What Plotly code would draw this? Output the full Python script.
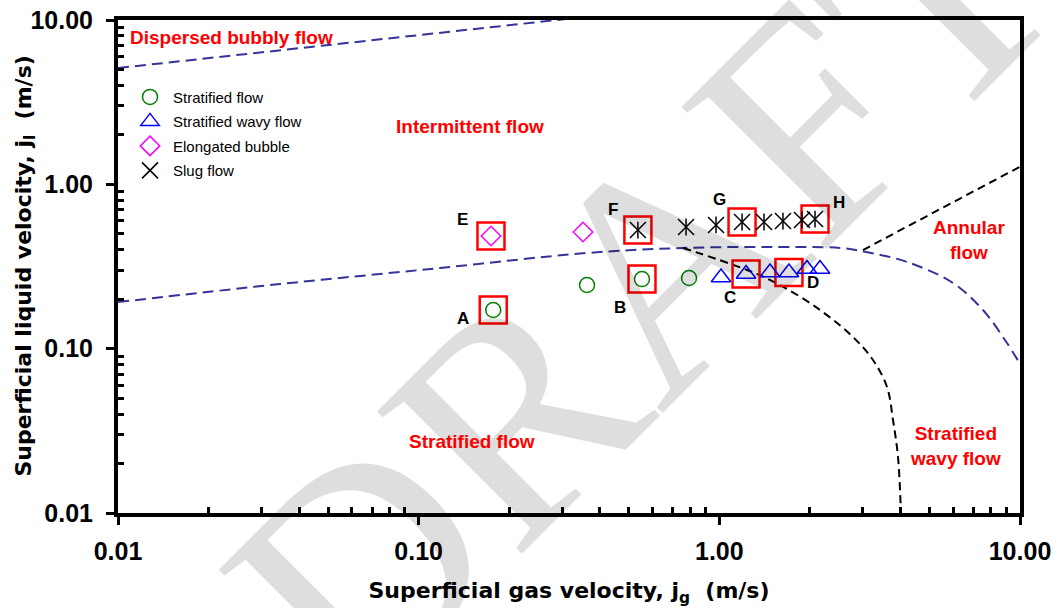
import math
import plotly.graph_objects as go

# ---------------- data ----------------
strat_x = [0.177, 0.363, 0.553, 0.793]
strat_y = [0.172, 0.244, 0.265, 0.269]

wavy_x = [1.013, 1.227, 1.474, 1.704, 1.957, 2.162]
wavy_y = [0.271, 0.285, 0.291, 0.291, 0.305, 0.305]

elong_x = [0.174, 0.352]
elong_y = [0.485, 0.513]

slug_x = [0.536, 0.775, 0.975, 1.190, 1.408, 1.628, 1.883, 2.081]
slug_y = [0.527, 0.550, 0.566, 0.590, 0.590, 0.598, 0.607, 0.615]

# boundary lines
disp_x = [0.01, 0.35]
disp_y = [5.10, 10.4]

strint_x = [0.01, 0.0346, 0.1177, 0.363, 0.757, 1.508, 2.519, 3.075, 4.209, 5.985, 7.531, 9.050, 10.15]
strint_y = [0.192, 0.2474, 0.3095, 0.3821, 0.4099, 0.4157, 0.4099, 0.3875, 0.3369, 0.2510, 0.1719, 0.1083, 0.0773]

strwavy_x = [0.757, 1.236, 1.591, 2.162, 2.783, 3.244, 3.612, 3.781, 3.929, 4.020, 4.03]
strwavy_y = [0.4099, 0.3012, 0.2440, 0.1719, 0.1178, 0.0853, 0.0584, 0.0368, 0.0219, 0.0100, 0.009]

annular_x = [3.004, 10.0]
annular_y = [0.3984, 1.280]

# highlighted cases: label, series, index, label offset (px)
series = {"strat": (strat_x, strat_y), "wavy": (wavy_x, wavy_y),
          "elong": (elong_x, elong_y), "slug": (slug_x, slug_y)}
cases = [("A", "strat", 0, -30, -9), ("B", "strat", 2, -22, -28),
         ("C", "wavy", 1, -16, -24), ("D", "wavy", 3, 24, -10),
         ("E", "elong", 0, -28, 16), ("F", "slug", 0, -25, 21),
         ("G", "slug", 3, -23, 22), ("H", "slug", 7, 24, 17)]

x_ticks = [0.01, 0.1, 1, 10]
x_ticktext = ["0.01", "0.10", "1.00", "10.00"]
y_ticks = [0.01, 0.1, 1, 10]
y_ticktext = ["0.01", "0.10", "1.00", "10.00"]
minor_vals = [m * d for d in [0.01, 0.1, 1] for m in range(2, 10)]

BLUE_LINE = "#333399"

fig = go.Figure()

# boundary lines
fig.add_trace(go.Scatter(x=disp_x, y=disp_y, mode="lines", showlegend=False, hoverinfo="skip",
                         line=dict(color=BLUE_LINE, width=2, dash="11px,6px")))
fig.add_trace(go.Scatter(x=strint_x, y=strint_y, mode="lines", showlegend=False, hoverinfo="skip",
                         line=dict(color=BLUE_LINE, width=2, dash="11px,6px", shape="spline")))
fig.add_trace(go.Scatter(x=strwavy_x, y=strwavy_y, mode="lines", showlegend=False, hoverinfo="skip",
                         line=dict(color="black", width=2, dash="8px,5px", shape="spline")))
fig.add_trace(go.Scatter(x=annular_x, y=annular_y, mode="lines", showlegend=False, hoverinfo="skip",
                         line=dict(color="black", width=2, dash="8px,5px")))

# highlight squares
sq_x = [series[s][0][i] for _, s, i, _, _ in cases]
sq_y = [series[s][1][i] for _, s, i, _, _ in cases]
fig.add_trace(go.Scatter(x=sq_x, y=sq_y, mode="markers", showlegend=False, hoverinfo="skip",
                         marker=dict(symbol="square-open", size=27, color="red",
                                     line=dict(color="red", width=2.5))))

# data series
fig.add_trace(go.Scatter(x=strat_x, y=strat_y, mode="markers", name="Stratified flow",
                         legendgroup="g1",
                         marker=dict(symbol="circle-open", size=15, color="#008000",
                                     line=dict(color="#008000", width=1.5))))
fig.add_trace(go.Scatter(x=wavy_x, y=wavy_y, mode="markers", name="Stratified wavy flow",
                         legendgroup="g2",
                         marker=dict(symbol="triangle-up-open", size=17, color="#0000ff",
                                     line=dict(color="#0000ff", width=1.5))))
fig.add_trace(go.Scatter(x=elong_x, y=elong_y, mode="markers", name="Elongated bubble",
                         legendgroup="g3",
                         marker=dict(symbol="diamond-open", size=15, color="#ff00ff",
                                     line=dict(color="#ff00ff", width=1.5))))
fig.add_trace(go.Scatter(x=slug_x, y=slug_y, mode="markers", name="Slug flow",
                         legendgroup="g4",
                         marker=dict(symbol="x-thin-open", size=16, color="black",
                                     line=dict(color="black", width=1.5))))
fig.add_trace(go.Scatter(x=slug_x, y=slug_y, mode="markers", name="Slug flow",
                         legendgroup="g4", showlegend=False,
                         marker=dict(symbol="line-ns-open", size=12, color="black",
                                     line=dict(color="black", width=1.5))))

annotations = []
# watermark (translucent so the chart shows through)
annotations.append(dict(x=0.58, y=0.46, xref="paper", yref="paper", text="DRAFT",
                        xanchor="center", yanchor="middle",
                        showarrow=False, textangle=-45,
                        font=dict(family="Liberation Serif", size=310, color="rgba(0,0,0,0.13)")))
# case labels
for lab, s, i, dx, dy in cases:
    annotations.append(dict(x=math.log10(series[s][0][i]), y=math.log10(series[s][1][i]),
                            xref="x", yref="y", text=lab, showarrow=False,
                            xanchor="center", yanchor="middle",
                            xshift=dx, yshift=dy,
                            font=dict(family="Arial", size=17, color="black", weight="bold")))

# region labels
red_font = dict(family="Arial", size=19, color="red", weight="bold")
annotations += [
    dict(x=0.011, y=0.9655, xref="paper", yref="paper", text="Dispersed bubbly flow",
         xanchor="left", yanchor="middle", showarrow=False, font=red_font),
    dict(x=0.390, y=0.783, xref="paper", yref="paper", text="Intermittent flow",
         xanchor="center", yanchor="middle", showarrow=False, font=red_font),
    dict(x=0.392, y=0.146, xref="paper", yref="paper", text="Stratified flow",
         xanchor="center", yanchor="middle", showarrow=False, font=red_font),
    dict(x=0.928, y=0.136, xref="paper", yref="paper", text="Stratified<br>wavy flow",
         xanchor="center", yanchor="middle", showarrow=False, font=red_font),
    dict(x=0.943, y=0.554, xref="paper", yref="paper", text="Annular<br>flow",
         xanchor="center", yanchor="middle", showarrow=False, font=red_font),
]
# y-axis title
annotations.append(dict(x=-0.103, y=0.5, xref="paper", yref="paper",
                        text="Superficial liquid velocity, j<sub>l</sub>  (m/s)",
                        textangle=-90, xanchor="center", yanchor="middle", showarrow=False,
                        font=dict(family="DejaVu Sans", size=22, color="black", weight="bold")))

axis_common = dict(type="log", showline=True, linewidth=4, linecolor="black", mirror=True,
                   showgrid=False, zeroline=False, ticks="outside", ticklen=8, tickwidth=3,
                   tickcolor="black", automargin=False,
                   tickfont=dict(family="Arial", size=25, color="black", weight="bold"),
                   minor=dict(ticks="inside", ticklen=6, tickwidth=3, tickcolor="black",
                              tickvals=minor_vals, showgrid=False))

fig.update_layout(
    width=1057, height=608,
    margin=dict(l=118, r=37, t=20, b=95, autoexpand=False),
    paper_bgcolor="white", plot_bgcolor="white",
    font=dict(family="Arial", color="black"),
    xaxis=dict(axis_common, range=[-2, 1], tickvals=x_ticks, ticktext=x_ticktext,
               ticklabelstandoff=5,
               title=dict(text="Superficial gas velocity, j<sub>g</sub>  (m/s)", standoff=20,
                          font=dict(family="DejaVu Sans", size=22, color="black", weight="bold"))),
    yaxis=dict(axis_common, range=[-2, 1], tickvals=y_ticks, ticktext=y_ticktext,
               ticklabelstandoff=8),
    xaxis2=dict(type="log", range=[-2, 1], overlaying="x", showline=False, showgrid=False,
                zeroline=False, ticks="inside", ticklen=8, tickwidth=3, tickcolor="black",
                tickvals=x_ticks, showticklabels=False, side="bottom", automargin=False),
    yaxis2=dict(type="log", range=[-2, 1], overlaying="y", showline=False, showgrid=False,
                zeroline=False, ticks="inside", ticklen=8, tickwidth=3, tickcolor="black",
                tickvals=y_ticks, showticklabels=False, side="left", automargin=False),
    legend=dict(x=0.01, y=0.877, xanchor="left", yanchor="top", bgcolor="rgba(0,0,0,0)",
                font=dict(family="Arial", size=15, color="black"),
                itemwidth=36, tracegroupgap=2, traceorder="grouped"),
    annotations=annotations,
)

fig.write_html("out.html")
